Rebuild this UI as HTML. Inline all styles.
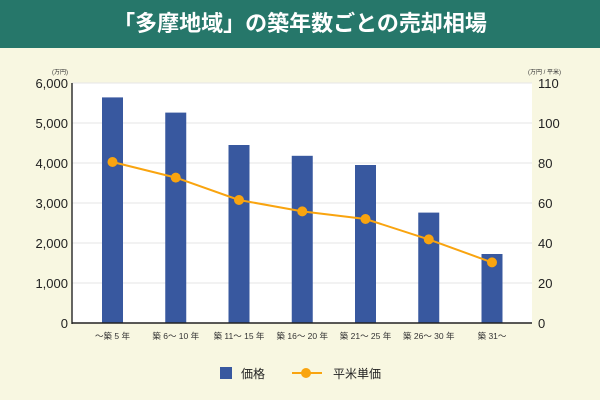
<!DOCTYPE html>
<html><head><meta charset="utf-8"><style>
body{margin:0;width:600px;height:400px;background:#f8f7e1;font-family:"Liberation Sans","Noto Sans CJK JP",sans-serif;overflow:hidden}
#hdr{position:absolute;left:0;top:0;width:600px;height:48px;background:#26776a;color:#fff;font-weight:bold;font-size:22px;text-align:center;line-height:48px}
svg{position:absolute;left:0;top:0}
</style></head><body>
<div id="hdr">「多摩地域」の築年数ごとの売却相場</div>
<svg id="c" width="600" height="400"></svg>
<script>
const categories=["～築 5 年","築 6～ 10 年","築 11～ 15 年","築 16～ 20 年","築 21～ 25 年","築 26～ 30 年","築 31～"];
const prices=[5640,5260,4450,4180,3950,2760,1725];
const unitPrices=[80.5,72.7,61.5,55.8,52,41.8,30.3];
const leftTicks=[0,1000,2000,3000,4000,5000,6000];
const leftTickLabels=["0","1,000","2,000","3,000","4,000","5,000","6,000"];
const rightTicks=[0,20,40,60,80,100,120];
const rightTickLabels=["0","20","40","60","80","100","110"];
const NS="http://www.w3.org/2000/svg",svg=document.getElementById('c');
const X0=72,X1=532,Y0=323,Y1=83;
const yL=v=>Y0-(v/6000)*(Y0-Y1);
const yR=v=>Y0-(v/120)*(Y0-Y1);
const band=63.25,first=112.5;
const xC=i=>first+i*band;
function mk(t,a,txt){const e=document.createElementNS(NS,t);for(const k in a)e.setAttribute(k,a[k]);if(txt!=null)e.textContent=txt;svg.appendChild(e);return e;}
let e=mk('rect',{x:X0,y:Y1,width:X1-X0,height:Y0-Y1,fill:'#fff'});


leftTicks.forEach((v,i)=>{
  let g=mk('line',{x1:X0,x2:X1,y1:yL(v),y2:yL(v),stroke:'#e6e6e6','stroke-width':1});
  
  
  let t=mk('text',{x:X0-4,y:yL(v)+5,'text-anchor':'end','font-size':13,fill:'#222'},leftTickLabels[i]);
  
  
});
rightTicks.forEach((v,i)=>{
  let t=mk('text',{x:X1+6,y:yR(v)+5,'font-size':13,fill:'#222'},rightTickLabels[i]);
  
  
});
e=mk('text',{x:52,y:74,'font-size':6,fill:'#333'},'(万円)');


e=mk('text',{x:528,y:74,'font-size':6,fill:'#333'},'(万円 / 平米)');


prices.forEach((v,i)=>{
  let r=mk('rect',{x:xC(i)-10.5,y:yL(v),width:21,height:Y0-yL(v),fill:'#38589f'});
  
  
  let t=mk('text',{x:xC(i),y:339,'text-anchor':'middle','font-size':8.5,fill:'#333'},categories[i]);
  
  
});
e=mk('line',{x1:X0,x2:X0,y1:Y1,y2:Y0+1,stroke:'#333','stroke-width':1.5});


e=mk('line',{x1:X0,x2:X1,y1:Y0,y2:Y0,stroke:'#222','stroke-width':1.5});


e=mk('polyline',{points:unitPrices.map((v,i)=>xC(i)+','+yR(v)).join(' '),fill:'none',stroke:'#f9a40f','stroke-width':2});


unitPrices.forEach((v,i)=>{
  let c=mk('circle',{cx:xC(i),cy:yR(v),r:5,fill:'#f9a40f'});
  
  
});
e=mk('rect',{x:220,y:367,width:12,height:12,fill:'#38589f'});


e=mk('text',{x:241,y:378,'font-size':12,fill:'#222'},'価格');


e=mk('line',{x1:292,x2:322,y1:373,y2:373,stroke:'#f9a40f','stroke-width':2});


e=mk('circle',{cx:306,cy:373,r:5,fill:'#f9a40f'});


e=mk('text',{x:333,y:378,'font-size':12,fill:'#222'},'平米単価');


</script>
</body></html>
